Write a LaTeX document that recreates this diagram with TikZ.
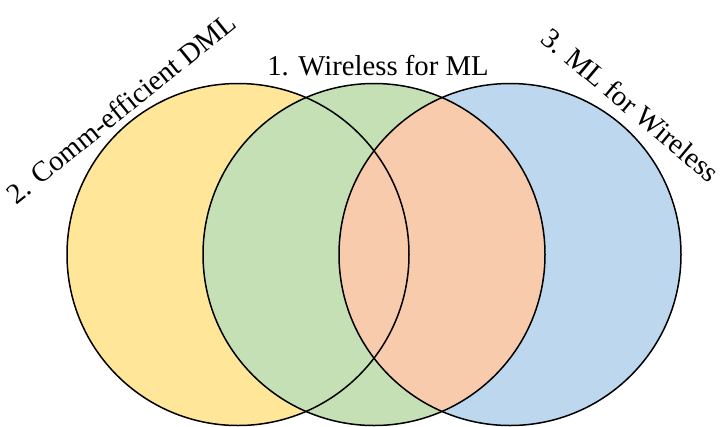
\documentclass[tikz,border=0pt]{standalone}
\usepackage{fontspec}
\setmainfont{Liberation Serif}
\newfontfamily\vennfont{Liberation Serif}
\definecolor{vyellow}{HTML}{FFE699}
\definecolor{vgreen}{HTML}{C5E0B4}
\definecolor{vblue}{HTML}{BDD7EE}
\definecolor{vorange}{HTML}{F8CBAD}
\begin{document}
\begin{tikzpicture}[x=1pt,y=-1pt,
  outline/.style={draw=black,line width=1.5pt},
  lbl/.style={font=\vennfont\fontsize{28.7}{34}\selectfont,inner sep=0pt}]
\useasboundingbox (0,0) rectangle (720,426);
\def\R{171}
\coordinate (cl) at (238,254.5);
\coordinate (cm) at (374,254.5);
\coordinate (cr) at (510,254.5);
% fills
\fill[vyellow] (cl) circle[radius=\R];
\fill[vgreen] (cm) circle[radius=\R];
\fill[vblue] (cr) circle[radius=\R];
\begin{scope}
  \clip (cm) circle[radius=\R];
  \fill[vorange] (cr) circle[radius=\R];
\end{scope}
% outlines
\draw[outline] (cl) circle[radius=\R];
\draw[outline] (cm) circle[radius=\R];
\draw[outline] (cr) circle[radius=\R];
% labels
\node[lbl,anchor=base] (t1) at (378,75) {1. Wireless for ML};
\node[lbl,rotate=39] (t2) at (121,108) {2. Comm-efficient DML};
\node[lbl,rotate=-40] (t3) at (631,105) {3. ML for Wireless};
\end{tikzpicture}
\end{document}
